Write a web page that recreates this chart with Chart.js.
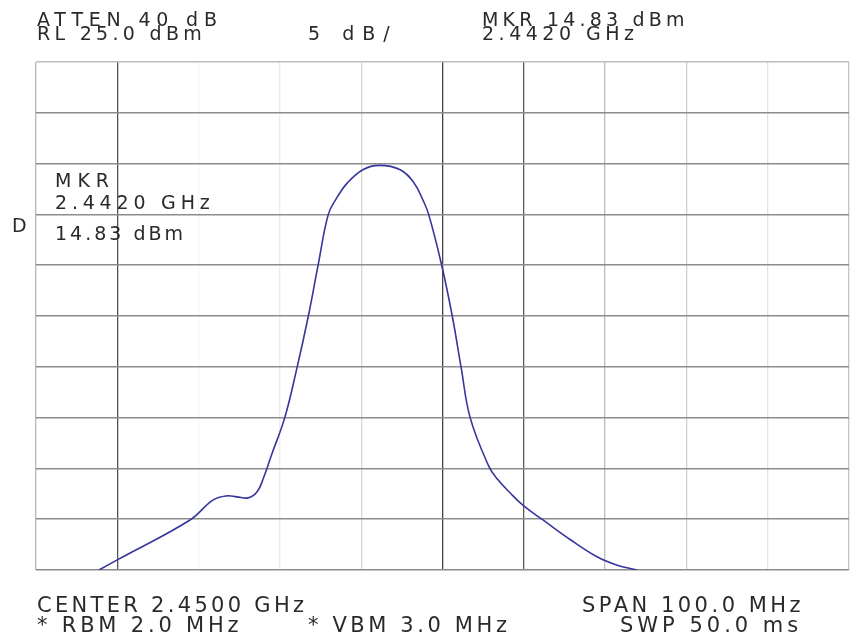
<!DOCTYPE html>
<html>
<head>
<meta charset="utf-8">
<script src="https://cdn.jsdelivr.net/npm/chart.js@4"></script>
<style>
  body { margin: 0; background: #fff; }
  #wrap { position: relative; width: 854px; height: 644px; }
  .t { position: absolute; font-family: "DejaVu Sans", sans-serif; color: #2a2a2a;
       font-size: 19px; line-height: 19px; letter-spacing: 4.6px; white-space: pre; }
  .b { font-size: 21px; line-height: 21px; letter-spacing: 3.5px; }
</style>
</head>
<body>
<div id="wrap">
  <canvas id="specChart"></canvas>
  <div class="t" style="left:37px; top:9.5px; letter-spacing:5.8px;">ATTEN 40 dB</div>
  <div class="t" style="left:37px; top:24px; letter-spacing:4.3px;">RL 25.0 dBm</div>
  <div class="t" style="left:308px; top:24px; letter-spacing:8px;">5 dB/</div>
  <div class="t" style="left:482px; top:9.5px; letter-spacing:4.2px;">MKR 14.83 dBm</div>
  <div class="t" style="left:482px; top:24px; letter-spacing:4.5px;">2.4420 GHz</div>
  <div class="t" style="left:55px; top:171px; letter-spacing:6px;">MKR</div>
  <div class="t" style="left:55px; top:193px; letter-spacing:4.8px;">2.4420 GHz</div>
  <div class="t" style="left:55px; top:224px; letter-spacing:3px;">14.83 dBm</div>
  <div class="t" style="left:12px; top:216px;">D</div>
  <div class="t b" style="left:37px; top:595px; letter-spacing:3.3px;">CENTER 2.4500 GHz</div>
  <div class="t b" style="left:37px; top:615px; letter-spacing:3.8px;">* RBM 2.0 MHz</div>
  <div class="t b" style="left:308px; top:615px; letter-spacing:3.6px;">* VBM 3.0 MHz</div>
  <div class="t b" style="left:582px; top:595px; letter-spacing:3.5px;">SPAN 100.0 MHz</div>
  <div class="t b" style="left:620px; top:615px; letter-spacing:4px;">SWP 50.0 ms</div>
</div>
<script>
// trace: frequency in MHz, level in dBm
var freqMHz = [2407.75, 2410.0, 2418.9, 2421.8, 2423.5, 2424.7, 2426.1, 2427.2, 2428.0, 2429.0,
               2430.6, 2432.1, 2433.5, 2434.7, 2435.95, 2436.9, 2438.3,
               2440.2, 2442.2, 2444.8, 2446.5, 2447.6, 2448.3,
               2449.9, 2451.2, 2452.3, 2453.4, 2455.7, 2456.8, 2458.3, 2460.0, 2462.4,
               2465.7, 2469.0, 2471.4, 2473.9];
var levelDbm = [-25.0, -24.0, -20.1, -18.1, -17.7, -17.8, -17.9, -17.3, -15.9, -13.6,
                -10.0, -5.1, 0.0, 5.0, 10.0, 11.5, 13.1,
                14.4, 14.83, 14.4, 13.1, 11.4, 10.0,
                5.0, 0.0, -5.1, -10.0, -14.8, -16.1, -17.4, -18.7, -20.1,
                -22.0, -23.7, -24.5, -25.0];

// screen: 2.40 - 2.50 GHz, RL 25 dBm, 5 dB/div
var xMin = 2400, xMax = 2500, xStep = 10;
var yMin = -25, yMax = 25, yStep = 5;

// graticule shades, one per division line (left to right)
var vLineColors = ['#b4b4b4', '#555555', '#f6f6f6', '#ececec', '#d6d6d6', '#444444',
                   '#5a5a5a', '#bdbdbd', '#cfcfcf', '#e2e2e2', '#c4c4c4'];

var points = freqMHz.map(function (f, i) { return { x: f, y: levelDbm[i] }; });

var ctx = document.getElementById('specChart').getContext('2d');
var chart = new Chart(ctx, {
    type: 'line',
    data: {
        datasets: [{
            data: points,
            borderColor: '#36369c',
            borderWidth: 1.6,
            pointRadius: 0,
            fill: false,
            tension: 0.4
        }]
    },
    options: {
        responsive: true,
        maintainAspectRatio: false,
        animation: false,
        layout: { padding: { left: 36, top: 62, right: 5, bottom: 74 } },
        plugins: { legend: { display: false }, tooltip: { enabled: false } },
        scales: {
            x: {
                type: 'linear',
                min: xMin, max: xMax,
                ticks: { display: false, stepSize: xStep },
                grid: {
                    drawTicks: false,
                    lineWidth: 1.3,
                    color: function (c) { return vLineColors[c.index] || '#ccc'; }
                },
                border: { display: false }
            },
            y: {
                min: yMin, max: yMax,
                ticks: { display: false, stepSize: yStep },
                grid: {
                    drawTicks: false,
                    lineWidth: 1.5,
                    color: function (c) { return c.index === 10 ? '#bdbdbd' : '#8c8c8c'; }
                },
                border: { display: false }
            }
        }
    }
});
</script>
</body>
</html>
